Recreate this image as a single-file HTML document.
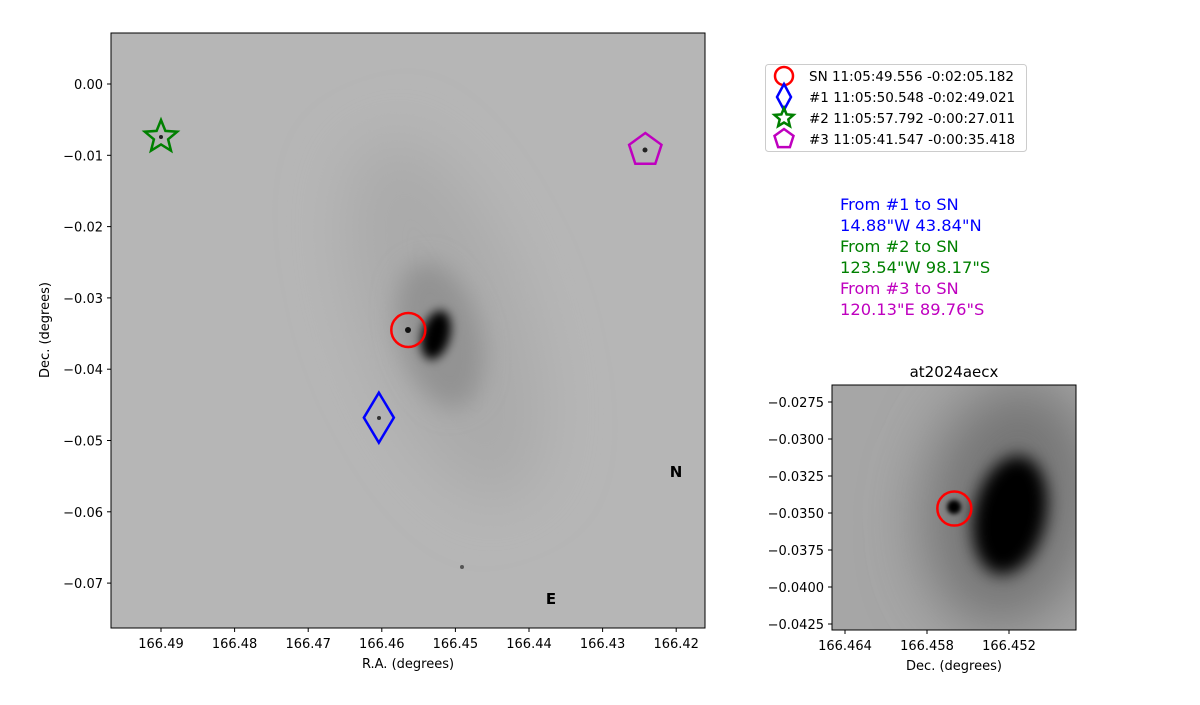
<!DOCTYPE html>
<html><head><meta charset="utf-8"><style>
body{margin:0;background:#fff;font-family:"Liberation Sans","DejaVu Sans",sans-serif}
text{font-family:"DejaVu Sans","Liberation Sans",sans-serif}
</style></head><body>
<svg id="fig" width="1200" height="700" viewBox="0 0 1200 700" xmlns="http://www.w3.org/2000/svg">
<defs>
<clipPath id="c1"><rect x="111" y="33" width="594" height="595"/></clipPath>
<clipPath id="c2"><rect x="832" y="385" width="244" height="245"/></clipPath>
<filter id="b30" x="-100%" y="-100%" width="300%" height="300%"><feGaussianBlur stdDeviation="30"/></filter>
<filter id="b12" x="-100%" y="-100%" width="300%" height="300%"><feGaussianBlur stdDeviation="12"/></filter>
<filter id="b5" x="-100%" y="-100%" width="300%" height="300%"><feGaussianBlur stdDeviation="5"/></filter>
<filter id="b2" x="-100%" y="-100%" width="300%" height="300%"><feGaussianBlur stdDeviation="2"/></filter>
<filter id="b8" x="-100%" y="-100%" width="300%" height="300%"><feGaussianBlur stdDeviation="8"/></filter>
</defs>
<g clip-path="url(#c1)">
<rect x="111" y="33" width="594" height="595" fill="#b6b6b6"/>
<ellipse cx="445" cy="320" rx="80" ry="190" transform="rotate(-20 445 320)" fill="#aaaaaa" filter="url(#b30)"/>
<ellipse cx="440" cy="335" rx="40" ry="75" transform="rotate(-15 440 335)" fill="#939393" filter="url(#b12)"/>
<ellipse cx="436" cy="335" rx="14" ry="25" transform="rotate(15 436 335)" fill="#000" filter="url(#b5)"/>
<circle cx="408" cy="330" r="3" fill="#111"/>
<circle cx="379" cy="418" r="2" fill="#333"/>
<circle cx="161" cy="137" r="2" fill="#222"/>
<circle cx="645" cy="150" r="2.5" fill="#222"/>
<circle cx="462" cy="567" r="2" fill="#555"/>
</g>
<rect x="111" y="33" width="594" height="595" fill="none" stroke="#000" stroke-width="1"/>
<g id="markers"></g>
<text x="676" y="477" font-size="15" font-weight="bold" text-anchor="middle">N</text>
<text x="551" y="604" font-size="15" font-weight="bold" text-anchor="middle">E</text>
<g id="ax1"></g>
<text x="408" y="668" font-size="13" text-anchor="middle">R.A. (degrees)</text>
<text transform="translate(49 330) rotate(-90)" font-size="13" text-anchor="middle">Dec. (degrees)</text>

<g>
<rect x="765.5" y="64.5" width="261" height="87" rx="3" fill="#fff" stroke="#ccc"/>
<circle cx="784" cy="76" r="9" fill="none" stroke="red" stroke-width="2.5"/>
<polygon points="784,84 791,97 784,110 777,97" fill="none" stroke="blue" stroke-width="2.5"/>
<polygon id="lstar" fill="none" stroke="green" stroke-width="2.5"/>
<polygon id="lpent" fill="none" stroke="#bf00bf" stroke-width="2.5"/>
<text x="809" y="81" font-size="13.5">SN 11:05:49.556 -0:02:05.182</text>
<text x="809" y="102" font-size="13.5">#1 11:05:50.548 -0:02:49.021</text>
<text x="809" y="123" font-size="13.5">#2 11:05:57.792 -0:00:27.011</text>
<text x="809" y="144" font-size="13.5">#3 11:05:41.547 -0:00:35.418</text>
</g>
<g font-size="16.3">
<text x="840" y="210" fill="blue">From #1 to SN</text>
<text x="840" y="231" fill="blue">14.88"W 43.84"N</text>
<text x="840" y="252" fill="green">From #2 to SN</text>
<text x="840" y="273" fill="green">123.54"W 98.17"S</text>
<text x="840" y="294" fill="#bf00bf">From #3 to SN</text>
<text x="840" y="315" fill="#bf00bf">120.13"E 89.76"S</text>
</g>

<g clip-path="url(#c2)">
<rect x="832" y="385" width="244" height="245" fill="#a6a6a6"/>
<ellipse cx="1010" cy="505" rx="85" ry="125" transform="rotate(10 1010 505)" fill="#747474" filter="url(#b30)"/>
<ellipse cx="1010" cy="515" rx="36" ry="60" transform="rotate(12 1010 515)" fill="#000" filter="url(#b8)"/>
<circle cx="954" cy="507" r="7" fill="#000" filter="url(#b2)"/>
</g>
<rect x="832" y="385" width="244" height="245" fill="none" stroke="#000"/>
<text x="954" y="377" font-size="15" text-anchor="middle">at2024aecx</text>
<g id="ax2"></g>
<text x="954" y="670" font-size="13" text-anchor="middle">Dec. (degrees)</text>
</svg>
<script>
const NS="http://www.w3.org/2000/svg";
const raTicks=[166.49,166.48,166.47,166.46,166.45,166.44,166.43,166.42];
const decTicks=[0,-0.01,-0.02,-0.03,-0.04,-0.05,-0.06,-0.07];
const insetRaTicks=[166.464,166.458,166.452];
const insetDecTicks=[-0.0275,-0.03,-0.0325,-0.035,-0.0375,-0.04,-0.0425];
const markerNames=["sn","ref-1","ref-2","ref-3"];
const markerRA=[166.4564,166.4604,166.4900,166.4242];
const markerDec=[-0.0345,-0.0468,-0.00743,-0.00926];
const snInsetRA=[166.456];
const snInsetDec=[-0.0347];
const X=ra=>161+(166.49-ra)*7360, Y=d=>84-d*7130;
const IX=ra=>845+(166.464-ra)*13667, IY=d=>402+(-0.0275-d)*14800;
function mk(tag,attrs,parent){const e=document.createElementNS(NS,tag);for(const k in attrs)e.setAttribute(k,attrs[k]);parent.appendChild(e);return e;}
function star(cx,cy,R,r){let p=[];for(let i=0;i<10;i++){const a=-Math.PI/2+i*Math.PI/5,rr=i%2?r:R;p.push((cx+rr*Math.cos(a)).toFixed(1)+","+(cy+rr*Math.sin(a)).toFixed(1));}return p.join(" ");}
function pent(cx,cy,R){let p=[];for(let i=0;i<5;i++){const a=-Math.PI/2+i*2*Math.PI/5;p.push((cx+R*Math.cos(a)).toFixed(1)+","+(cy+R*Math.sin(a)).toFixed(1));}return p.join(" ");}
document.getElementById('lstar').setAttribute('points',star(784,118,10,4.5));
document.getElementById('lpent').setAttribute('points',pent(784,139,10));
const ax1=document.getElementById('ax1'),ax2=document.getElementById('ax2'),mg=document.getElementById('markers');
raTicks.forEach(v=>{const x=X(v);mk('line',{x1:x,x2:x,y1:628,y2:632,stroke:'#000'},ax1);
 const t=mk('text',{x:x,y:648,'font-size':13,'text-anchor':'middle'},ax1);t.textContent=v.toFixed(2);
 
 });
decTicks.forEach(v=>{const y=Y(v);mk('line',{x1:107,x2:111,y1:y,y2:y,stroke:'#000'},ax1);
 const t=mk('text',{x:103,y:y+5,'font-size':13,'text-anchor':'end'},ax1);t.textContent=(v===0?"0.00":"\u2212"+Math.abs(v).toFixed(2));
 
 });
insetRaTicks.forEach(v=>{const x=IX(v);mk('line',{x1:x,x2:x,y1:630,y2:634,stroke:'#000'},ax2);
 const t=mk('text',{x:x,y:650,'font-size':13,'text-anchor':'middle'},ax2);t.textContent=v.toFixed(3);
 
 });
insetDecTicks.forEach(v=>{const y=IY(v);mk('line',{x1:828,x2:832,y1:y,y2:y,stroke:'#000'},ax2);
 const t=mk('text',{x:824,y:y+5,'font-size':13,'text-anchor':'end'},ax2);t.textContent="\u2212"+Math.abs(v).toFixed(4);
 
 });
markerNames.forEach((n,i)=>{const x=X(markerRA[i]),y=Y(markerDec[i]);let e;
 if(i===0)e=mk('circle',{cx:x,cy:y,r:17,fill:'none',stroke:'red','stroke-width':2.5},mg);
 else if(i===1)e=mk('polygon',{points:`${x},${y-25} ${x+15},${y} ${x},${y+25} ${x-15},${y}`,fill:'none',stroke:'blue','stroke-width':2.5},mg);
 else if(i===2)e=mk('polygon',{points:star(x,y,17,7.5),fill:'none',stroke:'green','stroke-width':2.5},mg);
 else e=mk('polygon',{points:pent(x,y,17),fill:'none',stroke:'#bf00bf','stroke-width':2.5},mg);
 
 });
const ic=mk('circle',{cx:IX(snInsetRA[0]),cy:IY(snInsetDec[0]),r:17,fill:'none',stroke:'red','stroke-width':2.5},ax2);


</script>
</body></html>
